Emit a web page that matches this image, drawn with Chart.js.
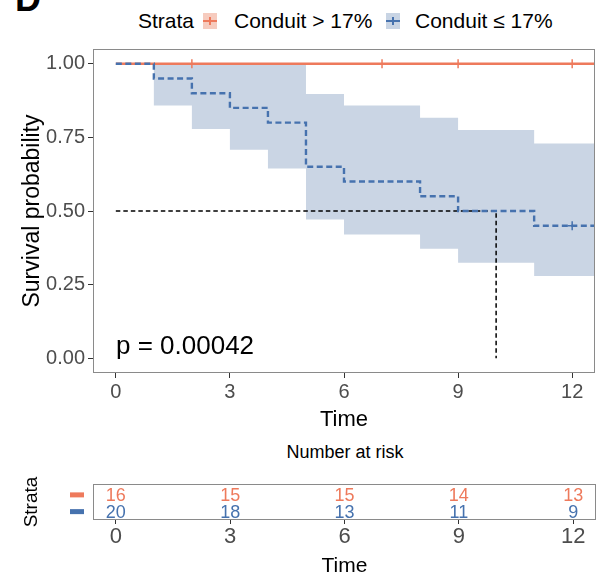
<!DOCTYPE html>
<html>
<head>
<meta charset="utf-8">
<script src="https://cdn.jsdelivr.net/npm/chart.js@4.4.1/dist/chart.umd.min.js"></script>
<style>
  body { margin: 0; background: #fff; }
  #wrap { position: relative; width: 601px; height: 579px; background: #fff; font-family: "Liberation Sans", Arial, sans-serif; overflow: hidden; }
  .txt { position: absolute; white-space: nowrap; color: #000; }
  .key { position: absolute; top: 13px; width: 14px; height: 16px; }
  .key .h { position: absolute; left: 0; right: 0; top: 7px; height: 2px; }
  .key .v { position: absolute; left: 6px; width: 2px; top: 4px; height: 8px; }
</style>
</head>
<body>
<div id="wrap">
  <div class="txt" style="left:15px; top:-19px; font-size:36px; line-height:36px; font-weight:bold;">D</div>

  <!-- legend -->
  <div class="txt" style="left:138px; top:9px; font-size:21px; line-height:24px;">Strata</div>
  <div class="key" style="left:203px; background:#F6CBBE;"><div class="h" style="background:#EE7A5C"></div><div class="v" style="background:#EE7A5C"></div></div>
  <div class="txt" style="left:234px; top:9px; font-size:21px; line-height:24px;">Conduit &gt; 17%</div>
  <div class="key" style="left:386px; background:#C8D4E4;"><div class="h" style="background:#4672AE"></div><div class="v" style="background:#4672AE"></div></div>
  <div class="txt" style="left:415px; top:9px; font-size:21px; line-height:24px;">Conduit ≤ 17%</div>

  <div style="position:absolute; left:0; top:0;"><canvas id="kmChart" width="601" height="440"></canvas></div>
  <div class="txt" style="left:116px; top:330px; font-size:26px; line-height:30px;">p = 0.00042</div>

  <div class="txt" style="left:345px; top:441px; font-size:18px; line-height:22px; transform:translateX(-50%);">Number at risk</div>
  <div style="position:absolute; left:0; top:440px;"><canvas id="riskChart" width="601" height="139"></canvas></div>
</div>

<script>
// x range of the plot (time in months)
const timeMin = -0.6;
const timeMax = 12.6;
const timeTicks = [0, 3, 6, 9, 12];
const survTicks = [0, 0.25, 0.5, 0.75, 1];

// Conduit > 17% : no events
const highTimes = [0, 12.6];
const highSurv = [1, 1];
const highCensor = [2, 7, 9, 12];
const highCensorSurv = [1, 1, 1, 1];

// Conduit <= 17%
const lowTimes = [0, 1, 2, 3, 4, 5, 6, 8, 9, 11, 12.6];
const lowSurv = [1, 0.95, 0.90, 0.85, 0.80, 0.65, 0.60, 0.55, 0.50, 0.45, 0.45];
const lowUpper = [1, 1, 1, 1, 1, 0.897, 0.858, 0.817, 0.775, 0.729, 0.729];
const lowLower = [1, 0.858, 0.778, 0.708, 0.644, 0.471, 0.42, 0.372, 0.324, 0.279, 0.279];
const lowCensor = [12];
const lowCensorSurv = [0.45];

// median survival line
const medianX = [0, 10, 10];
const medianY = [0.5, 0.5, 0];

// number at risk table
const riskTimes = [0, 3, 6, 9, 12];
const riskHigh = [16, 15, 15, 14, 13];
const riskLow = [20, 18, 13, 11, 9];

const red = '#EE7A5C';
const blue = '#4672AE';
const axisGrey = '#8a8a8a';
const tickText = '#4d4d4d';

Chart.defaults.font.family = '"Liberation Sans", Arial, sans-serif';
Chart.defaults.animation = false;

const toPoints = (xs, ys) => xs.map((x, i) => ({ x: x, y: ys[i] }));

// panel border around chart area
const panelBorder = {
    id: 'panelBorder',
    afterDraw(chart) {
        const a = chart.chartArea;
        const ctx = chart.ctx;
        ctx.save();
        ctx.strokeStyle = axisGrey;
        ctx.lineWidth = 1;
        ctx.strokeRect(a.left + 0.5, a.top + 0.5, a.right - a.left - 1, a.bottom - a.top - 1);
        ctx.restore();
    }
};

const fixedTicks = (arr) => (scale) => { scale.ticks = arr.map(v => ({ value: v })); };

// first dataset is drawn on top
new Chart(document.getElementById('kmChart'), {
    type: 'line',
    data: {
        datasets: [
            {
                // censor marks, high group
                type: 'scatter',
                data: toPoints(highCensor, highCensorSurv),
                pointStyle: 'cross',
                pointRadius: 4.5,
                borderColor: red,
                borderWidth: 1.5,
                showLine: false
            },
            {
                type: 'scatter',
                data: toPoints(lowCensor, lowCensorSurv),
                pointStyle: 'cross',
                pointRadius: 4.5,
                borderColor: blue,
                borderWidth: 1.5,
                showLine: false
            },
            {
                label: 'Conduit ≤ 17%',
                data: toPoints(lowTimes, lowSurv),
                stepped: 'before',
                borderColor: blue,
                borderWidth: 2.4,
                borderDash: [6, 3.5],
                pointRadius: 0,
                fill: false
            },
            {
                label: 'Conduit > 17%',
                data: toPoints(highTimes, highSurv),
                stepped: 'before',
                borderColor: red,
                borderWidth: 2.7,
                pointRadius: 0,
                fill: false
            },
            {
                // median line
                data: toPoints(medianX, medianY),
                borderColor: '#000',
                borderWidth: 1.5,
                borderDash: [4.5, 3],
                pointRadius: 0,
                fill: false
            },
            {
                // CI upper
                data: toPoints(lowTimes, lowUpper),
                stepped: 'before',
                borderWidth: 0,
                borderColor: 'rgba(0,0,0,0)',
                backgroundColor: '#CAD5E4',
                pointRadius: 0,
                fill: '+1'
            },
            {
                // CI lower
                data: toPoints(lowTimes, lowLower),
                stepped: 'before',
                borderWidth: 0,
                borderColor: 'rgba(0,0,0,0)',
                pointRadius: 0,
                fill: false
            }
        ]
    },
    options: {
        responsive: false,
        events: [],
        layout: { padding: { left: 0, right: 5, top: 49, bottom: 0 } },
        plugins: { legend: { display: false }, tooltip: { enabled: false } },
        scales: {
            x: {
                type: 'linear',
                min: timeMin,
                max: timeMax,
                afterBuildTicks: fixedTicks(timeTicks),
                afterFit: (scale) => { scale.height = 67; },
                grid: { drawOnChartArea: false, drawTicks: true, tickLength: 5, tickColor: '#333', lineWidth: 1 },
                border: { display: false },
                ticks: { color: tickText, font: { size: 20 }, padding: 2, maxRotation: 0 },
                title: { display: true, text: 'Time', color: '#000', font: { size: 22 }, padding: { top: 0, bottom: 7 } }
            },
            y: {
                type: 'linear',
                min: -0.05,
                max: 1.05,
                afterBuildTicks: fixedTicks(survTicks),
                afterFit: (scale) => { scale.width = 93; },
                grid: { drawOnChartArea: false, drawTicks: true, tickLength: 5, tickColor: '#333', lineWidth: 1 },
                border: { display: false },
                ticks: { color: tickText, font: { size: 20 }, padding: 3, callback: (v) => v.toFixed(2) },
                title: { display: true, text: 'Survival probability', color: '#000', font: { size: 23 }, padding: { top: 19, bottom: 0 } }
            }
        }
    },
    plugins: [panelBorder]
});

// risk table: numbers and strata keys
const riskText = {
    id: 'riskText',
    afterDatasetsDraw(chart) {
        const ctx = chart.ctx;
        const xs = chart.scales.x;
        const ys = chart.scales.y;
        ctx.save();
        ctx.font = '18px "Liberation Sans", Arial, sans-serif';
        ctx.textAlign = 'center';
        ctx.textBaseline = 'middle';
        riskTimes.forEach((t, i) => {
            const px = xs.getPixelForValue(t);
            ctx.fillStyle = red;
            ctx.fillText(String(riskHigh[i]), px, ys.getPixelForValue(2) + 1);
            ctx.fillStyle = blue;
            ctx.fillText(String(riskLow[i]), px, ys.getPixelForValue(1) + 1);
        });
        // strata colour keys
        ctx.fillStyle = red;
        ctx.fillRect(70, ys.getPixelForValue(2) - 2.5, 14, 5);
        ctx.fillStyle = blue;
        ctx.fillRect(70, ys.getPixelForValue(1) - 2.5, 14, 5);
        ctx.restore();
    }
};

new Chart(document.getElementById('riskChart'), {
    type: 'scatter',
    data: { datasets: [] },
    options: {
        responsive: false,
        events: [],
        layout: { padding: { left: 0, right: 5, top: 44, bottom: 0 } },
        plugins: { legend: { display: false }, tooltip: { enabled: false } },
        scales: {
            x: {
                type: 'linear',
                min: timeMin,
                max: timeMax,
                afterBuildTicks: fixedTicks(riskTimes),
                afterFit: (scale) => { scale.height = 59; },
                grid: { drawOnChartArea: false, drawTicks: true, tickLength: 4, tickColor: '#333', lineWidth: 1 },
                border: { display: false },
                ticks: { color: tickText, font: { size: 22 }, padding: 0, maxRotation: 0 },
                title: { display: true, text: 'Time', color: '#000', font: { size: 21 }, padding: { top: 0, bottom: 0 } }
            },
            y: {
                type: 'linear',
                min: 0.5,
                max: 2.65,
                afterFit: (scale) => { scale.width = 93; },
                grid: { display: false },
                border: { display: false },
                ticks: { display: false },
                title: { display: true, text: 'Strata', color: '#000', font: { size: 19 }, padding: { top: 20, bottom: 0 } }
            }
        }
    },
    plugins: [panelBorder, riskText]
});
</script>
</body>
</html>
